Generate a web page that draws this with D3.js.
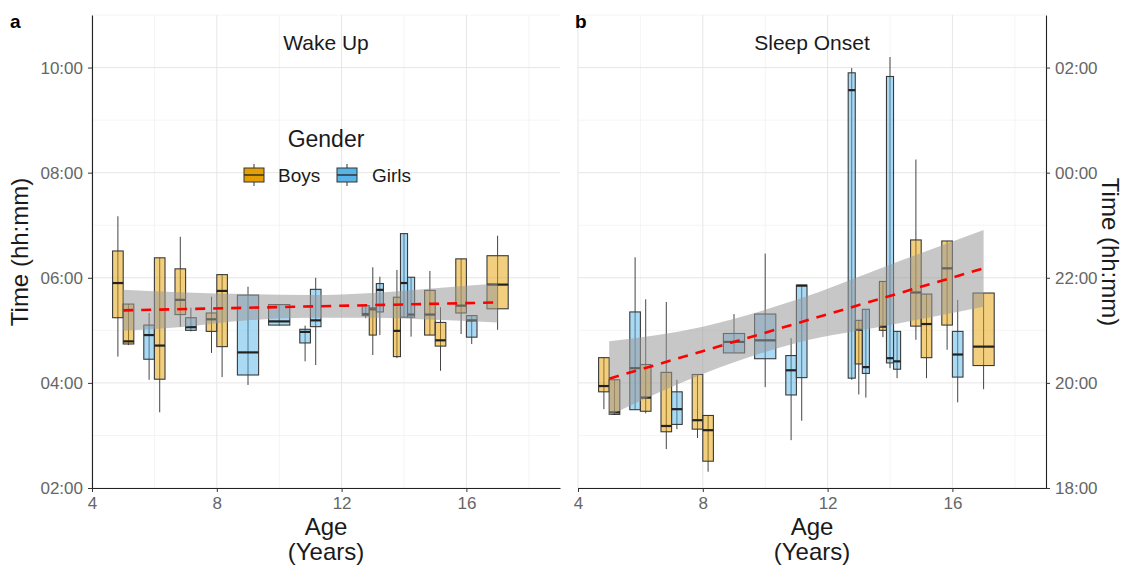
<!DOCTYPE html>
<html>
<head>
<meta charset="utf-8">
<script src="https://cdnjs.cloudflare.com/ajax/libs/d3/7.8.5/d3.min.js"></script>
<style>
    body { margin: 0; background: #fff; }
    text { font-family: "Liberation Sans", Arial, sans-serif; }
</style>
</head>
<body>
<script>
// age group of each box and gender (fill); boxes sharing an age are dodged side by side
var ageGroup = [5, 5, 6, 6, 7, 7, 8, 8, 9, 10, 11, 11, 13, 13, 13, 14, 14, 14, 15, 15, 16, 16, 17];
var gender = ["Boys", "Boys", "Girls", "Boys", "Boys", "Girls", "Boys", "Boys", "Girls", "Girls", "Girls", "Girls",
    "Girls", "Boys", "Girls", "Boys", "Girls", "Girls", "Boys", "Boys", "Boys", "Girls", "Boys"];

// wake up times (hours)
var wakeLow  = [4.50, 4.72, 4.06, 3.44, 5.07, 4.98, 4.57, 4.11, 3.96, 5.09, 4.41, 4.34, 5.23, 4.53, 4.91, 4.47, 5.25, 4.88, 4.91, 4.23, 4.93, 4.74, 5.01];
var wakeQ1   = [5.24, 4.74, 4.45, 4.07, 5.30, 5.00, 4.98, 4.69, 4.15, 5.10, 4.76, 5.07, 5.28, 4.91, 5.35, 4.50, 5.25, 5.25, 4.91, 4.70, 5.33, 4.87, 5.41];
var wakeMed  = [5.90, 4.79, 4.91, 4.71, 5.58, 5.06, 5.21, 5.75, 4.58, 5.17, 4.97, 5.19, 5.31, 5.40, 5.77, 4.99, 5.90, 5.30, 5.30, 4.81, 5.47, 5.19, 5.87];
var wakeQ3   = [6.51, 5.50, 5.10, 6.38, 6.17, 5.24, 5.33, 6.06, 5.67, 5.49, 5.02, 5.78, 5.47, 5.43, 5.89, 5.63, 6.84, 6.01, 5.76, 5.15, 6.36, 5.28, 6.42];
var wakeHigh = [7.17, 5.50, 5.33, 6.38, 6.78, 5.43, 5.64, 6.06, 5.83, 5.49, 5.09, 6.00, 5.47, 6.20, 6.02, 6.15, 6.84, 6.01, 6.13, 5.44, 6.36, 5.28, 6.80];

// sleep onset times (hours, past midnight written as 24+)
var sleepLow  = [19.50, 19.40, 19.49, 19.42, 18.74, 19.12, 18.95, 18.31, 20.57, 19.92, 18.91, 19.28, 20.06, 19.78, 19.72, 20.87, 20.28, 20.09, 20.82, 20.09, 20.63, 19.63, 19.88];
var sleepQ1   = [19.83, 19.40, 19.49, 19.46, 19.07, 19.21, 19.12, 18.51, 20.57, 20.46, 19.77, 20.10, 20.09, 20.36, 20.18, 21.00, 20.38, 20.26, 21.08, 20.48, 21.10, 20.11, 20.33];
var sleepMed  = [19.94, 19.44, 20.28, 19.72, 19.18, 19.50, 19.29, 19.10, 20.78, 20.81, 20.24, 21.85, 25.57, 21.01, 20.30, 21.07, 20.47, 20.41, 21.72, 21.12, 22.18, 20.54, 20.69];
var sleepQ3   = [20.48, 20.06, 21.35, 20.35, 20.20, 19.83, 20.16, 19.38, 20.94, 21.31, 20.52, 21.86, 25.90, 21.19, 21.40, 21.93, 25.83, 20.98, 22.72, 21.69, 22.70, 20.98, 21.71];
var sleepHigh = [20.48, 20.06, 22.39, 21.59, 21.54, 20.06, 20.16, 19.38, 21.31, 22.46, 20.85, 21.86, 25.99, 21.19, 21.40, 21.93, 26.20, 20.98, 24.25, 21.69, 22.70, 21.58, 21.71];

// linear trend and its confidence band
var trendAges = [5, 17];
var wakeTrend = [5.38, 5.53];
var sleepTrend = [20.08, 22.18];
var wakeBandAges = [5, 7, 9, 11, 13, 15, 17];
var wakeBandLow  = [4.99, 5.07, 5.19, 5.24, 5.24, 5.20, 5.15];
var wakeBandHigh = [5.77, 5.72, 5.69, 5.67, 5.71, 5.80, 5.89];
var sleepBandAges = [5, 8, 11, 14, 17];
var sleepBandLow  = [19.38, 20.17, 20.76, 21.10, 21.45];
var sleepBandHigh = [20.79, 21.07, 21.58, 22.25, 22.91];

var xTicks = [4, 8, 12, 16];
var wakeTicks = [2, 4, 6, 8, 10];
var wakeTickLabels = ["02:00", "04:00", "06:00", "08:00", "10:00"];
var sleepTicks = [18, 20, 22, 24, 26];
var sleepTickLabels = ["18:00", "20:00", "22:00", "00:00", "02:00"];

var colors = {Boys: "#E69F00", Girls: "#56B4E9"};

var svg = d3.select("body")
        .append("svg")
        .attr("width", 1124)
        .attr("height", 566);

function drawPanel(opt) {
    var xScale = d3.scaleLinear().domain([4, 19]).range([opt.left, opt.right]);
    var yScale = d3.scaleLinear().domain(opt.yDomain).range([488, 15]);
    var g = svg.append("g");

    // grid
    var minorX = [6, 10, 14, 18];
    var minorY = d3.range(opt.yDomain[0] + 1, opt.yDomain[1] + 1, 2);
    g.selectAll(".minx").data(minorX).enter().append("line")
            .attr("x1", function (d) { return xScale(d); })
            .attr("x2", function (d) { return xScale(d); })
            .attr("y1", 15).attr("y2", 488)
            .attr("stroke", "#f1f1f1").attr("stroke-width", 0.8);
    g.selectAll(".miny").data(minorY).enter().append("line")
            .attr("y1", function (d) { return yScale(d); })
            .attr("y2", function (d) { return yScale(d); })
            .attr("x1", opt.left).attr("x2", opt.right)
            .attr("stroke", "#f1f1f1").attr("stroke-width", 0.8);
    g.selectAll(".majx").data(xTicks).enter().append("line")
            .attr("x1", function (d) { return xScale(d); })
            .attr("x2", function (d) { return xScale(d); })
            .attr("y1", 15).attr("y2", 488)
            .attr("stroke", "#e6e6e6").attr("stroke-width", 1);
    g.selectAll(".majy").data(opt.yTicks).enter().append("line")
            .attr("y1", function (d) { return yScale(d); })
            .attr("y2", function (d) { return yScale(d); })
            .attr("x1", opt.left).attr("x2", opt.right)
            .attr("stroke", "#e6e6e6").attr("stroke-width", 1);

    // boxes, dodged within each age group
    var dodge = 0.68;
    var boxes = ageGroup.map(function (a, i) {
        var same = ageGroup.filter(function (b) { return b === a; }).length;
        var k = ageGroup.slice(0, i).filter(function (b) { return b === a; }).length;
        var slot = dodge / same;
        return {
            x: a + (k - (same - 1) / 2) * slot, w: slot, g: gender[i],
            lo: opt.low[i], q1: opt.q1[i], med: opt.med[i], q3: opt.q3[i], hi: opt.high[i]
        };
    });
    var bx = g.selectAll(".box").data(boxes).enter().append("g");
    bx.append("line")
            .attr("x1", function (d) { return xScale(d.x); })
            .attr("x2", function (d) { return xScale(d.x); })
            .attr("y1", function (d) { return yScale(d.hi); })
            .attr("y2", function (d) { return yScale(d.lo); })
            .attr("stroke", "#444").attr("stroke-width", 1);
    bx.append("rect")
            .attr("x", function (d) { return xScale(d.x - d.w / 2); })
            .attr("width", function (d) { return xScale(d.w) - xScale(0); })
            .attr("y", function (d) { return yScale(d.q3); })
            .attr("height", function (d) { return yScale(d.q1) - yScale(d.q3); })
            .attr("fill", function (d) { return colors[d.g]; })
            .attr("fill-opacity", 0.5)
            .attr("stroke", "#3a3a3a").attr("stroke-width", 1.1);
    bx.append("line")
            .attr("x1", function (d) { return xScale(d.x - d.w / 2); })
            .attr("x2", function (d) { return xScale(d.x + d.w / 2); })
            .attr("y1", function (d) { return yScale(d.med); })
            .attr("y2", function (d) { return yScale(d.med); })
            .attr("stroke", "#222").attr("stroke-width", 2.2);

    // confidence band + trend
    var band = opt.bandAges.map(function (a, i) { return {x: a, lo: opt.bandLow[i], hi: opt.bandHigh[i]}; });
    g.append("path")
            .datum(band)
            .attr("d", d3.area()
                    .x(function (d) { return xScale(d.x); })
                    .y0(function (d) { return yScale(d.lo); })
                    .y1(function (d) { return yScale(d.hi); })
                    .curve(d3.curveMonotoneX))
            .attr("fill", "#999").attr("fill-opacity", 0.55);
    g.append("path")
            .datum(trendAges.map(function (a, i) { return {x: a, y: opt.trend[i]}; }))
            .attr("d", d3.line()
                    .x(function (d) { return xScale(d.x); })
                    .y(function (d) { return yScale(d.y); }))
            .attr("fill", "none").attr("stroke", "#ff0000")
            .attr("stroke-width", 2.6).attr("stroke-dasharray", "10,8");

    // axes
    var xAxis = d3.axisBottom(xScale).tickValues(xTicks).tickSize(4).tickPadding(5).tickSizeOuter(0);
    g.append("g")
            .attr("transform", "translate(0,488)")
            .call(xAxis);
    var yAxis = (opt.side === "left" ? d3.axisLeft(yScale) : d3.axisRight(yScale))
            .tickValues(opt.yTicks)
            .tickFormat(function (d, i) { return opt.yLabels[i]; })
            .tickSize(4).tickPadding(5).tickSizeOuter(0);
    g.append("g")
            .attr("transform", "translate(" + (opt.side === "left" ? opt.left : opt.right) + ",0)")
            .call(yAxis);
    g.selectAll(".domain").attr("stroke", "#222").attr("stroke-width", 1.1);
    g.selectAll(".tick line").attr("stroke", "#333");
    g.selectAll(".tick text")
            .style("font-family", "'Liberation Sans', Arial, sans-serif")
            .style("font-size", "17px")
            .attr("fill", "#666");

    // texts
    g.append("text")
            .attr("x", (opt.left + opt.right) / 2).attr("y", 50)
            .attr("text-anchor", "middle")
            .style("font-size", "21px").attr("fill", "#1a1a1a")
            .text(opt.title);
    g.append("text")
            .attr("x", opt.tagX).attr("y", 28)
            .style("font-size", "19px").style("font-weight", "bold")
            .text(opt.tag);
    g.append("text")
            .attr("x", (opt.left + opt.right) / 2).attr("y", 535)
            .attr("text-anchor", "middle")
            .style("font-size", "24px").attr("fill", "#1a1a1a")
            .text("Age");
    g.append("text")
            .attr("x", (opt.left + opt.right) / 2).attr("y", 560)
            .attr("text-anchor", "middle")
            .style("font-size", "24px").attr("fill", "#1a1a1a")
            .text("(Years)");
    g.append("text")
            .attr("transform", opt.side === "left" ? "translate(28,252) rotate(-90)" : "translate(1102,252) rotate(90)")
            .attr("text-anchor", "middle")
            .style("font-size", "24px").attr("fill", "#1a1a1a")
            .text("Time (hh:mm)");
}

drawPanel({
    left: 92, right: 560, side: "left", yDomain: [2, 11],
    yTicks: wakeTicks, yLabels: wakeTickLabels,
    low: wakeLow, q1: wakeQ1, med: wakeMed, q3: wakeQ3, high: wakeHigh,
    trend: wakeTrend, bandAges: wakeBandAges, bandLow: wakeBandLow, bandHigh: wakeBandHigh,
    title: "Wake Up", tag: "a", tagX: 10
});

drawPanel({
    left: 578, right: 1046, side: "right", yDomain: [18, 27],
    yTicks: sleepTicks, yLabels: sleepTickLabels,
    low: sleepLow, q1: sleepQ1, med: sleepMed, q3: sleepQ3, high: sleepHigh,
    trend: sleepTrend, bandAges: sleepBandAges, bandLow: sleepBandLow, bandHigh: sleepBandHigh,
    title: "Sleep Onset", tag: "b", tagX: 575
});

// legend
var legend = svg.append("g");
legend.append("text")
        .attr("x", 326).attr("y", 147)
        .attr("text-anchor", "middle")
        .style("font-size", "23px").attr("fill", "#1a1a1a")
        .text("Gender");
var keys = legend.selectAll(".key")
        .data([{g: "Boys", x: 244, tx: 278}, {g: "Girls", x: 337, tx: 372}])
        .enter().append("g");
keys.append("line")
        .attr("x1", function (d) { return d.x + 10; })
        .attr("x2", function (d) { return d.x + 10; })
        .attr("y1", 164).attr("y2", 186)
        .attr("stroke", "#333");
keys.append("rect")
        .attr("x", function (d) { return d.x; })
        .attr("y", 168).attr("width", 20).attr("height", 14)
        .attr("fill", function (d) { return colors[d.g]; })
        .attr("stroke", "#333").attr("stroke-width", 1);
keys.append("line")
        .attr("x1", function (d) { return d.x; })
        .attr("x2", function (d) { return d.x + 20; })
        .attr("y1", 175).attr("y2", 175)
        .attr("stroke", "#333").attr("stroke-width", 1.5);
keys.append("text")
        .attr("x", function (d) { return d.tx; })
        .attr("y", 182)
        .style("font-size", "19px").attr("fill", "#1a1a1a")
        .text(function (d) { return d.g; });
</script>
</body>
</html>
